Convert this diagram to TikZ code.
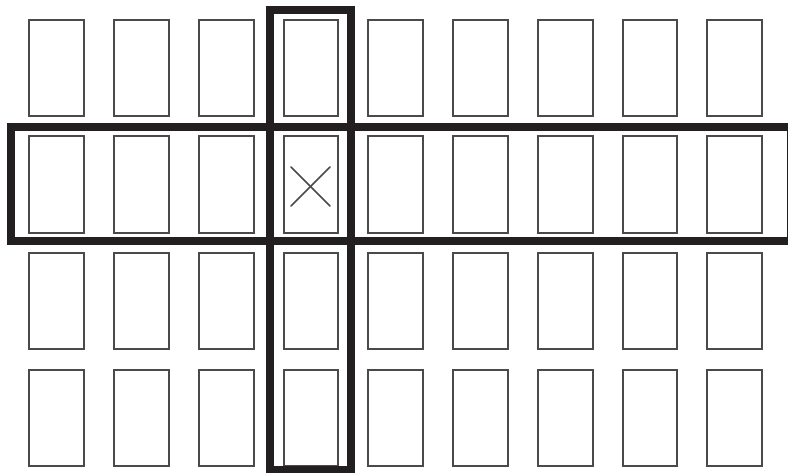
\documentclass[tikz,border=0pt]{standalone}
\usepackage{xcolor}
\usepackage{tikz}
\usetikzlibrary{positioning}

\definecolor{inkdark}{HTML}{231F20}
\definecolor{inkgray}{HTML}{4A4A4A}

\begin{document}
\begin{tikzpicture}[
  x=0.02cm,y=-0.02cm,
  cell/.style={rectangle,draw=inkgray,line width=1.1pt,inner sep=0pt,minimum width=1.096cm,minimum height=1.93cm},
  frame/.style={draw=inkdark,line width=4.4pt},
  cross/.style={draw=inkgray,line width=1pt,line cap=round}
]
\useasboundingbox (0,0) rectangle (788,473);
% grid of cells
\foreach \r in {1,...,4}{
  \foreach \c in {1,...,9}{
    \node[cell] (c-\r-\c) at ({56.7+84.75*(\c-1)},{68+116.6*(\r-1)}) {};
  }
}
% row and column frames
\draw[frame] (11,127) rectangle (791,241);
\draw[frame] (270,10) rectangle (351,470);
% marked cell
\draw[cross] (291,167) -- (330,206);
\draw[cross] (291,206) -- (330,167);
\end{tikzpicture}
\end{document}
